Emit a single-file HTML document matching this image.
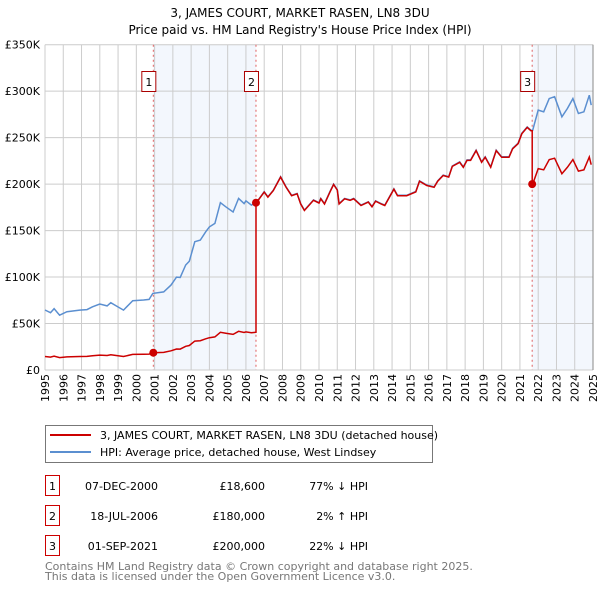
<!DOCTYPE html>
<html><head><meta charset="utf-8"><style>
body{margin:0;background:#fff;}
svg{display:block;font-family:"DejaVu Sans","Liberation Sans",sans-serif;}
</style></head><body>
<svg id="c" width="600" height="590" xmlns="http://www.w3.org/2000/svg">
<text x="300" y="17" text-anchor="middle" font-size="12" fill="#000">3, JAMES COURT, MARKET RASEN, LN8 3DU</text>
<text x="300" y="34" text-anchor="middle" font-size="12" fill="#000">Price paid vs. HM Land Registry's House Price Index (HPI)</text>
<g id="plot"></g>
<g>
<rect x="45.5" y="425.5" width="387" height="37" fill="#fff" stroke="#777"/>
<line x1="50" y1="435" x2="91" y2="435" stroke="#cc0000" stroke-width="2"/>
<text x="100" y="439" font-size="11">3, JAMES COURT, MARKET RASEN, LN8 3DU (detached house)</text>
<line x1="50" y1="452" x2="91" y2="452" stroke="#5b8fd0" stroke-width="2"/>
<text x="100" y="456" font-size="11">HPI: Average price, detached house, West Lindsey</text>
</g>
<g font-size="11">
<rect x="45.5" y="475.5" width="14" height="20" fill="#fff" stroke="#cc0000"/><text x="52.5" y="490" text-anchor="middle">1</text>
<text x="158" y="490" text-anchor="end">07-DEC-2000</text><text x="265" y="490" text-anchor="end">£18,600</text><text x="368" y="490" text-anchor="end">77% ↓ HPI</text>
<rect x="45.5" y="505.5" width="14" height="20" fill="#fff" stroke="#cc0000"/><text x="52.5" y="520" text-anchor="middle">2</text>
<text x="158" y="520" text-anchor="end">18-JUL-2006</text><text x="265" y="520" text-anchor="end">£180,000</text><text x="368" y="520" text-anchor="end">2% ↑ HPI</text>
<rect x="45.5" y="535.5" width="14" height="20" fill="#fff" stroke="#cc0000"/><text x="52.5" y="550" text-anchor="middle">3</text>
<text x="158" y="550" text-anchor="end">01-SEP-2021</text><text x="265" y="550" text-anchor="end">£200,000</text><text x="368" y="550" text-anchor="end">22% ↓ HPI</text>
</g>
<text x="45" y="570" font-size="11" fill="#777">Contains HM Land Registry data © Crown copyright and database right 2025.</text>
<text x="45" y="580" font-size="11" fill="#777">This data is licensed under the Open Government Licence v3.0.</text>
</svg>
<script>
const hpiYears=[1995.0,1995.3,1995.5,1995.8,1996.2,1996.9,1997.3,1997.6,1998.0,1998.4,1998.6,1998.9,1999.3,1999.8,2000.4,2000.7,2000.9,2001.5,2001.9,2002.2,2002.4,2002.7,2002.9,2003.2,2003.5,2003.8,2004.0,2004.3,2004.6,2004.9,2005.3,2005.6,2005.9,2006.0,2006.3,2006.6,2007.0,2007.2,2007.5,2007.9,2008.2,2008.5,2008.8,2009.0,2009.2,2009.7,2010.0,2010.1,2010.3,2010.6,2010.8,2011.0,2011.1,2011.4,2011.7,2011.9,2012.3,2012.7,2012.9,2013.1,2013.4,2013.6,2014.1,2014.3,2014.8,2015.3,2015.5,2015.9,2016.3,2016.5,2016.8,2017.1,2017.3,2017.7,2017.9,2018.1,2018.3,2018.6,2018.9,2019.1,2019.4,2019.7,2020.0,2020.4,2020.6,2020.9,2021.1,2021.4,2021.6,2021.7,2022.0,2022.3,2022.6,2022.9,2023.3,2023.6,2023.9,2024.2,2024.5,2024.8,2024.9];
const hpiValues=[64.6,61.7,66,59,62.7,64.5,65,68,71,69,72.4,69,64.5,74.6,75.3,76,82.4,84,91.4,100,99.6,113,117,138,139.8,148.7,154,157.7,180,175.6,170,184.6,179,182,177.4,181,191.8,186.4,193.5,208,197,188,190,179,172,183,180,184.6,179,192,200,194,179,184.6,183,184.6,177.4,181,176,182,179,177.4,195,188,188,192,203.6,199,197,203.6,209.7,208,219.5,224,218.6,226,226,236.6,224,229.4,218.6,236.6,229.4,229.4,238.5,244,254.7,261.6,258,258,279.6,277.8,292,294,272.4,281.4,292,276,277.8,295.7,285];
const saleYears=[2000.93,2006.55,2021.67];
const salePrices=[18.6,180,200];
const saleLabels=["1","2","3"];
const yTicks=[0,50,100,150,200,250,300,350];
const yTickLabels=["£0","£50K","£100K","£150K","£200K","£250K","£300K","£350K"];
const xTicks=[1995,1996,1997,1998,1999,2000,2001,2002,2003,2004,2005,2006,2007,2008,2009,2010,2011,2012,2013,2014,2015,2016,2017,2018,2019,2020,2021,2022,2023,2024,2025];

const L=45,R=593,T=44.7,B=370,X0=1995,X1=2025,YMAX=350;
const xs=v=>L+(v-X0)/(X1-X0)*(R-L);
const ys=v=>B-v/YMAX*(B-T);
const NS="http://www.w3.org/2000/svg";
const g=document.getElementById('plot');
function mk(t,a){const e=document.createElementNS(NS,t);for(const k in a)e.setAttribute(k,a[k]);g.appendChild(e);return e;}
function hpiAt(y){for(let i=0;i<hpiYears.length-1;i++){if(y<=hpiYears[i+1]){const f=(y-hpiYears[i])/(hpiYears[i+1]-hpiYears[i]);return hpiValues[i]+f*(hpiValues[i+1]-hpiValues[i]);}}return hpiValues[hpiValues.length-1];}

let b=mk('rect',{x:xs(saleYears[0]),y:T,width:xs(saleYears[1])-xs(saleYears[0]),height:B-T,fill:'#eef3fc',opacity:0.7});


b=mk('rect',{x:xs(saleYears[2]),y:T,width:R-xs(saleYears[2]),height:B-T,fill:'#eef3fc',opacity:0.7});



xTicks.forEach((t,i)=>{
 const x=xs(t);
 let l=mk('line',{x1:x,y1:T,x2:x,y2:B,stroke:'#ccc','stroke-width':1});
 
 
 let tx=mk('text',{x:0,y:0,'font-size':11,'text-anchor':'end',transform:`translate(${x+4},${B+4}) rotate(-90)`});
 tx.textContent=t;
 
 
});
yTicks.forEach((t,i)=>{
 const y=ys(t);
 let l=mk('line',{x1:L,y1:y,x2:R,y2:y,stroke:'#ccc','stroke-width':1});
 
 
 let tx=mk('text',{x:40,y:y+4,'font-size':11,'text-anchor':'end'});
 tx.textContent=yTickLabels[i];
 
 
});

saleYears.forEach((s,i)=>{
 let l=mk('line',{x1:xs(s),y1:T,x2:xs(s),y2:B,stroke:'#e06060','stroke-width':1,'stroke-dasharray':'2,3'});
 
 
});

let d=hpiYears.map((y,i)=>(i?'L':'M')+xs(y).toFixed(1)+','+ys(hpiValues[i]).toFixed(1)).join('');
let p=mk('path',{d:d,fill:'none',stroke:'#5b8fd0','stroke-width':1.5});



const ratios=saleYears.map((s,i)=>salePrices[i]/hpiAt(s));
function ratioAt(y){let r=ratios[0];for(let i=0;i<saleYears.length;i++)if(y>=saleYears[i])r=ratios[i];return r;}
let pts=[];
let allY=hpiYears.concat(saleYears).sort((a,b)=>a-b);
allY.forEach(y=>{
 const si=saleYears.indexOf(y);
 if(si>0){pts.push([y,hpiAt(y)*ratios[si-1]]);}
 pts.push([y,hpiAt(y)*ratioAt(y)]);
});
d=pts.map((q,i)=>(i?'L':'M')+xs(q[0]).toFixed(1)+','+ys(q[1]).toFixed(1)).join('');
p=mk('path',{d:d,fill:'none',stroke:'#cc0000','stroke-width':1.5});



saleYears.forEach((s,i)=>{
 let c=mk('circle',{cx:xs(s),cy:ys(salePrices[i]),r:4,fill:'#cc0000'});
 
 
 let r=mk('rect',{x:xs(s)-11.5,y:71.5,width:14,height:20,fill:'#fff',stroke:'#aa0000'});
 
 
 let t=mk('text',{x:xs(s)-4.5,y:86,'font-size':11,'text-anchor':'middle'});
 t.textContent=saleLabels[i];
 
 
});
let rb=mk('line',{x1:R,y1:T,x2:R,y2:B,stroke:'#888','stroke-width':1});


</script>
</body></html>
